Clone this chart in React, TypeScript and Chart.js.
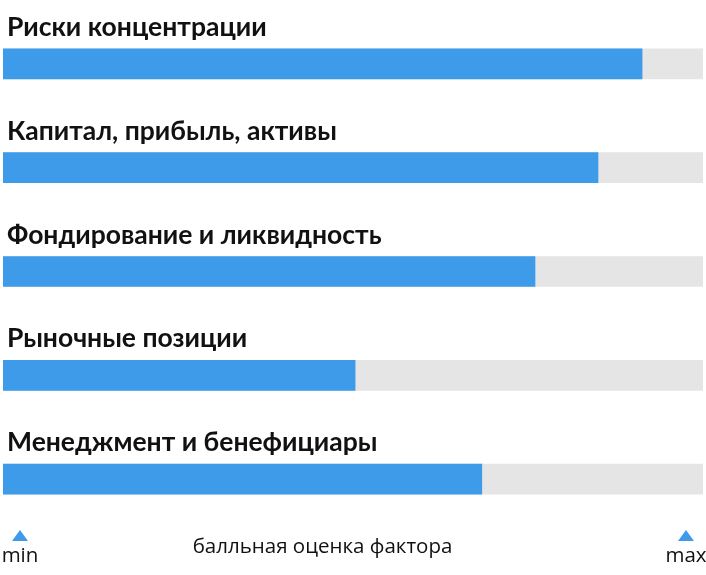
import React, { useEffect, useRef } from "react";
import { Chart, registerables } from "chart.js";

Chart.register(...registerables);

const categories = [
  "Риски концентрации",
  "Капитал, прибыль, активы",
  "Фондирование и ликвидность",
  "Рыночные позиции",
  "Менеджмент и бенефициары",
];
const scores = [91.3, 85, 76, 50.3, 68.4];
const maxScores = [100, 100, 100, 100, 100];
const axisMinLabel = "min";
const axisMaxLabel = "max";
const axisTitle = "балльная оценка фактора";

const BLUE = "#3d9be9";
const GREY = "#e5e5e5";

const labelPlugin = {
  id: "labelsAbove",
  afterDatasetsDraw(chart: any) {
    const { ctx, chartArea } = chart;
    const meta = chart.getDatasetMeta(1);
    ctx.save();
    ctx.fillStyle = "#111";
    ctx.font = "bold 26.5px Lato, 'Open Sans', sans-serif";
    ctx.textBaseline = "alphabetic";
    ctx.textAlign = "left";
    meta.data.forEach((el: any, i: number) => {
      const top = el.y - el.height / 2;
      ctx.fillText(categories[i], 7, top - 13);
    });
    // bottom axis legend
    const xs = chart.scales.x;
    const x0 = xs.getPixelForValue(0);
    const x1 = xs.getPixelForValue(100);
    const triY = chartArea.bottom - 1;
    const tri = (cx: number) => {
      ctx.beginPath();
      ctx.moveTo(cx - 8, triY + 11);
      ctx.lineTo(cx + 8, triY + 11);
      ctx.lineTo(cx, triY);
      ctx.closePath();
      ctx.fillStyle = BLUE;
      ctx.fill();
    };
    tri(x0 + 17);
    tri(x1 - 17);
    ctx.fillStyle = "#111";
    ctx.font = "20.5px 'Open Sans', 'Noto Sans', sans-serif";
    ctx.textAlign = "center";
    ctx.fillText(axisMinLabel, x0 + 17, triY + 32);
    ctx.fillText(axisMaxLabel, x1 - 17, triY + 32);
    ctx.fillText(axisTitle, 322.5, triY + 23);
    ctx.restore();
  },
};

export default function App() {
  const ref = useRef<HTMLCanvasElement>(null);
  useEffect(() => {
    if (!ref.current) return;
    const chart = new Chart(ref.current, {
      type: "bar",
      data: {
        labels: categories,
        datasets: [
          {
            data: maxScores,
            backgroundColor: GREY,
            barThickness: 30,
            grouped: false,
            order: 2,
          } as any,
          {
            data: scores,
            backgroundColor: BLUE,
            barThickness: 30,
            grouped: false,
            order: 1,
          } as any,
        ],
      },
      options: {
        indexAxis: "y",
        animation: false,
        responsive: false,
        maintainAspectRatio: false,
        layout: { padding: { left: 3, right: 3, top: 12, bottom: 44 } },
        plugins: { legend: { display: false }, tooltip: { enabled: false } },
        scales: {
          x: { display: false, min: 0, max: 100 },
          y: { display: false },
        },
      },
      plugins: [labelPlugin],
    });
    return () => chart.destroy();
  }, []);
  return (
    <div style={{ position: "fixed", left: 0, top: 0, width: 706, height: 575, background: "#fff" }}>
      <canvas ref={ref} width={706} height={575} style={{ width: 706, height: 575 }} />
    </div>
  );
}
